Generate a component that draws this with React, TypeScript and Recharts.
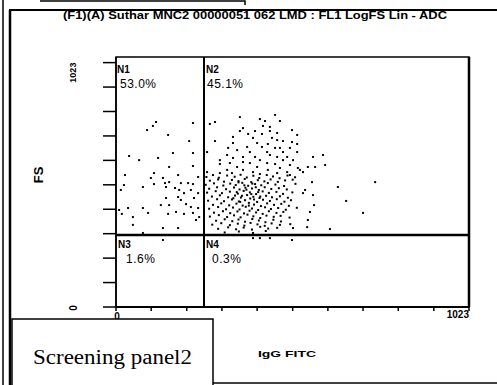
import React from "react";
import {
  ScatterChart,
  Scatter,
  XAxis,
  YAxis,
  ReferenceLine,
  ReferenceArea,
} from "recharts";

// FL1 (IgG FITC) vs FS, channel units 0..1023
const xTicks = [0, 102, 205, 307, 409, 512, 614, 716, 818, 921, 1023];
const yTicks = [0, 100, 200, 300, 400, 500, 600, 700, 800, 900, 1000];
const quadrantX = 255;
const quadrantY = 295;

const quadrantNames = ["N1", "N2", "N3", "N4"];
const quadrantPercents = ["53.0%", "45.1%", "1.6%", "0.3%"];

const n1Events = [
  [116, 757], [107, 741], [90, 724], [223, 753], [151, 704], [212, 679],
  [165, 630], [38, 618], [122, 610], [67, 601], [223, 630], [154, 573],
  [223, 577], [26, 540], [110, 548], [180, 540], [101, 528], [136, 528],
  [238, 532], [23, 499], [78, 491], [110, 503], [142, 507], [154, 511],
  [171, 487], [188, 507], [209, 507], [223, 503], [14, 479], [145, 491],
  [183, 479], [217, 479], [197, 466], [238, 466], [145, 446], [180, 450],
  [226, 446], [188, 438], [130, 417], [154, 417], [203, 421], [217, 409],
  [238, 405], [35, 405], [78, 405], [9, 397], [93, 385], [151, 381],
  [174, 389], [197, 381], [17, 381], [49, 368], [232, 356], [49, 336],
  [136, 323], [180, 323], [78, 303], [223, 385], [241, 368],
];

const n2Sparse = [
  [359, 777], [417, 769], [432, 761], [461, 786], [475, 761], [287, 757],
  [272, 749], [426, 741], [446, 737], [368, 732], [359, 720], [403, 720],
  [446, 720], [510, 724], [383, 708], [423, 708], [467, 712], [525, 704],
  [339, 696], [397, 692], [452, 692], [467, 683], [287, 679], [484, 679],
  [339, 671], [409, 671], [440, 667], [510, 675], [525, 667], [380, 655],
  [423, 655], [461, 651], [475, 651], [504, 651], [325, 651], [351, 642],
  [264, 634], [388, 634], [438, 634], [484, 634], [525, 634], [322, 622],
  [368, 614], [403, 614], [446, 622], [467, 614], [496, 614], [339, 610],
  [301, 601], [417, 601], [484, 601], [513, 601], [330, 589], [368, 593],
  [388, 589], [438, 589], [461, 585], [301, 585], [504, 581], [351, 573],
  [409, 573], [475, 569], [527, 569], [322, 561], [368, 561], [397, 552],
  [440, 561], [496, 552], [264, 552], [336, 548], [417, 544], [467, 548],
  [504, 540], [301, 548],
  [571, 614], [600, 622], [606, 581], [556, 573], [577, 573], [568, 511],
  [643, 491], [751, 511], [667, 434], [716, 385], [620, 319], [571, 458],
  [574, 417], [562, 389], [556, 356], [554, 327], [542, 466], [548, 479],
  [533, 561], [542, 552], [513, 323],
];

const n2Dense = [
  [262, 532], [281, 540], [298, 529], [322, 538], [344, 533], [361, 541], [379, 530], [398, 537], [415, 528], [437, 540], [455, 534], [474, 527], [497, 538], [519, 531],
  [272, 517], [296, 522], [313, 513], [336, 520], [355, 515], [373, 524], [392, 511], [411, 519], [430, 514], [448, 522], [469, 512], [490, 518], [512, 521],
  [260, 500], [284, 506], [311, 497], [331, 505], [347, 499], [366, 508], [383, 496], [403, 503], [421, 498], [440, 507], [462, 501], [487, 495], [520, 504],
  [270, 484], [293, 490], [319, 482], [342, 489], [358, 481], [375, 488], [394, 485], [414, 479], [431, 490], [450, 483], [472, 486], [495, 481],
  [264, 468], [289, 474], [307, 466], [330, 472], [353, 464], [370, 475], [388, 469], [406, 462], [425, 473], [443, 467], [465, 471], [484, 463], [511, 469],
  [278, 452], [301, 457], [325, 449], [345, 456], [362, 448], [380, 458], [398, 451], [416, 446], [435, 455], [452, 449], [475, 453], [498, 447],
  [267, 435], [293, 441], [313, 433], [336, 440], [356, 432], [374, 437], [389, 444], [409, 430], [426, 439], [446, 434], [466, 441], [488, 431], [507, 437],
  [281, 418], [305, 424], [328, 416], [349, 423], [367, 415], [385, 426], [400, 419], [420, 413], [438, 424], [458, 418], [479, 422], [501, 414],
  [270, 402], [296, 409], [319, 400], [339, 407], [358, 399], [376, 410], [394, 403], [412, 397], [432, 408], [449, 401], [470, 405], [492, 398], [524, 406],
  [284, 386], [310, 392], [331, 384], [352, 391], [371, 383], [387, 394], [406, 387], [425, 381], [443, 392], [465, 385], [485, 389],
  [272, 370], [298, 376], [322, 368], [342, 375], [361, 367], [381, 378], [398, 371], [418, 364], [436, 374], [457, 369], [477, 373], [503, 366],
  [290, 353], [315, 359], [337, 351], [355, 358], [374, 349], [395, 360], [414, 354], [433, 347], [456, 357], [478, 350],
  [279, 337], [305, 343], [330, 335], [353, 341], [372, 333], [390, 344], [410, 338], [431, 332], [451, 342], [475, 336], [505, 339],
  [296, 320], [325, 326], [348, 318], [370, 325], [394, 317], [418, 328], [441, 321], [467, 324],
  [315, 305], [356, 309], [397, 303], [434, 311],
  [350, 470], [365, 455], [378, 480], [392, 462], [405, 490], [418, 452], [360, 430],
  [385, 415], [400, 440], [372, 498], [340, 445], [412, 470], [395, 505], [355, 510],
];

const n3Events = [[136, 274]];
const n4Events = [[397, 282], [417, 282], [446, 282], [510, 274]];

const toPoints = (arr: number[][]) => arr.map(([x, y]) => ({ x, y }));
const events = [
  ...toPoints(n1Events),
  ...toPoints(n2Sparse),
  ...toPoints(n2Dense),
  ...toPoints(n3Events),
  ...toPoints(n4Events),
];

const sans = "'Liberation Sans', Arial, sans-serif";

const Dot = (p: any) => <rect x={p.cx - 1} y={p.cy - 1} width={2} height={2} fill="#000" />;

const XTick = (props: any) => {
  const { x, y, payload } = props;
  if (payload.value === 0)
    return (
      <text x={x + 1} y={y + 9} textAnchor="middle" fontSize={10} fontWeight="bold" fontFamily={sans} fill="#000">
        0
      </text>
    );
  if (payload.value === 1023)
    return (
      <text x={x} y={y + 7} textAnchor="end" fontSize={10} fontWeight="bold" fontFamily={sans} fill="#000">
        1023
      </text>
    );
  return <g />;
};

const YTick = (props: any) => {
  const { x, y, payload } = props;
  const cx = x - 30;
  if (payload.value === 0)
    return (
      <text x={cx} y={y + 1} transform={`rotate(-90 ${cx} ${y + 1})`} textAnchor="middle" dominantBaseline="central" fontSize={10} fontWeight="bold" fontFamily={sans} fill="#000">
        0
      </text>
    );
  if (payload.value === 1000)
    return (
      <text x={cx} y={y + 10} transform={`rotate(-90 ${cx} ${y + 10})`} textAnchor="middle" dominantBaseline="central" fontSize={9} fontWeight="bold" fontFamily={sans} fill="#000">
        1023
      </text>
    );
  return <g />;
};

const labelPos = [
  { nx: 117, ny: 73, px: 120, py: 88 },
  { nx: 206, ny: 73, px: 207, py: 88 },
  { nx: 118, ny: 248, px: 126, py: 263 },
  { nx: 206, ny: 248, px: 212, py: 263 },
];

export default function App() {
  return (
    <div style={{ position: "absolute", left: 0, top: 0, width: 497, height: 385, background: "#fff", overflow: "hidden" }}>
      <ScatterChart width={497} height={385} margin={{ top: 57, right: 28, bottom: 58, left: 56 }}>
        <XAxis
          type="number"
          dataKey="x"
          domain={[0, 1023]}
          ticks={xTicks}
          interval={0}
          height={20}
          tickSize={4}
          tickMargin={0}
          axisLine={{ stroke: "#000", strokeWidth: 2 }}
          tickLine={{ stroke: "#000", strokeWidth: 1.5 }}
          tick={<XTick />}
        />
        <YAxis
          type="number"
          dataKey="y"
          domain={[0, 1023]}
          ticks={yTicks}
          interval={0}
          width={60}
          tickSize={13}
          tickMargin={0}
          axisLine={{ stroke: "#000", strokeWidth: 1.5 }}
          tickLine={{ stroke: "#000", strokeWidth: 1.5 }}
          tick={<YTick />}
        />
        <ReferenceArea x1={0} x2={1023} y1={0} y2={1023} fill="none" stroke="#000" strokeWidth={1.5} />
        <ReferenceLine x={1023} stroke="#000" strokeWidth={2.5} />
        <ReferenceLine x={quadrantX} stroke="#000" strokeWidth={2} />
        <ReferenceLine y={quadrantY} stroke="#000" strokeWidth={2.5} />
        <Scatter data={events} fill="#000" shape={Dot} isAnimationActive={false} />
      </ScatterChart>

      <svg width={497} height={385} style={{ position: "absolute", left: 0, top: 0, pointerEvents: "none" }}>
        {/* scanned page frame */}
        <line x1={3} y1={0} x2={3} y2={385} stroke="#000" strokeWidth={1.5} />
        <line x1={10} y1={10} x2={10} y2={385} stroke="#000" strokeWidth={2.5} />
        <line x1={9} y1={10} x2={497} y2={10} stroke="#000" strokeWidth={2} />
        <polyline points="40,1 245,1 245,5" fill="none" stroke="#000" strokeWidth={1.5} />
        <line x1={213} y1={383} x2={497} y2={383} stroke="#000" strokeWidth={1.5} />

        <text x={63} y={19} fontSize={10} fontWeight="bold" fontFamily={sans} textLength={384} lengthAdjust="spacingAndGlyphs">
          (F1)(A) Suthar MNC2 00000051 062 LMD : FL1 LogFS Lin - ADC
        </text>

        {quadrantNames.map((n, i) => (
          <g key={n} fontFamily={sans} fill="#000">
            <text x={labelPos[i].nx} y={labelPos[i].ny} fontSize={10} fontWeight="bold">
              {n}
            </text>
            <text x={labelPos[i].px} y={labelPos[i].py} fontSize={12} letterSpacing={0.5}>
              {quadrantPercents[i]}
            </text>
          </g>
        ))}

        <text x={38} y={175} transform="rotate(-90 38 175)" textAnchor="middle" dominantBaseline="central" fontSize={13} fontWeight="bold" fontFamily={sans}>
          FS
        </text>
        <text x={287} y={357} textAnchor="middle" fontSize={9} fontWeight="bold" fontFamily={sans} textLength={58} lengthAdjust="spacingAndGlyphs">
          IgG FITC
        </text>

        <rect x={12} y={319} width={201} height={72} fill="#fff" stroke="#000" strokeWidth={1.5} />
        <text x={33} y={364} fontSize={20} fontFamily="'Liberation Serif', 'Times New Roman', serif" textLength={159} lengthAdjust="spacingAndGlyphs">
          Screening panel2
        </text>
      </svg>
    </div>
  );
}
